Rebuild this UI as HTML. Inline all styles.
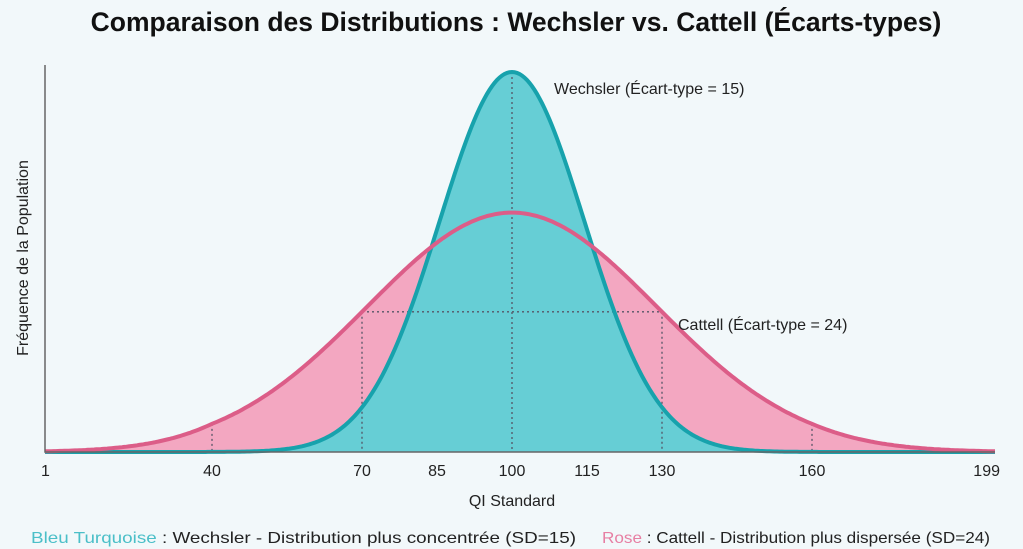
<!DOCTYPE html>
<html><head><meta charset="utf-8"><style>
body{margin:0;background:#f2f8fa;}
svg{display:block;font-family:"Liberation Sans",sans-serif;}
</style></head><body>
<svg id="c" width="1023" height="549">
<rect width="1023" height="549" fill="#f2f8fa"/>
<text x="516" y="31" text-anchor="middle" font-size="26.5" font-weight="bold" fill="#111">Comparaison des Distributions : Wechsler vs. Cattell (Écarts-types)</text>
<g id="plot"></g>
<text x="512" y="506" text-anchor="middle" font-size="16" fill="#222">QI Standard</text>
<text transform="translate(28,258) rotate(-90)" text-anchor="middle" font-size="16" fill="#222">Fréquence de la Population</text>
<text x="554" y="94" font-size="16" fill="#222">Wechsler (Écart-type = 15)</text>
<text x="678" y="330" font-size="16" fill="#222">Cattell (Écart-type = 24)</text>
<text x="31" y="543" font-size="16" fill="#222" textLength="545" lengthAdjust="spacingAndGlyphs"><tspan fill="#4bbfc8">Bleu Turquoise</tspan> : Wechsler - Distribution plus concentrée (SD=15)</text>
<text x="602" y="543" font-size="16" fill="#222" textLength="388" lengthAdjust="spacingAndGlyphs"><tspan fill="#e77fa3">Rose</tspan> : Cattell - Distribution plus dispersée (SD=24)</text>
</svg>
<script>
const tickValues=[1,40,70,85,100,115,130,160,199];
const seriesNames=["cattell","wechsler"];
const seriesMeans=[100,100];
const seriesSpreads=[29,14.5];
const seriesPeaks=[0.63,1.0];
const fills=["#f3a7c1","#66ced5"];
const strokes=["#dc5d88","#17a2ac"];
const ns="http://www.w3.org/2000/svg";
const Y0=452,H=380;
function xs(v){ if(v<=40) return 45+(v-1)/39*(212-45); if(v>=160) return 812+(v-160)/39*(995-812); return 512+(v-100)*5; }
function ys(f){ return Y0-f*H; }
function dens(i,v){ const z=(v-seriesMeans[i])/seriesSpreads[i]; return seriesPeaks[i]*Math.exp(-0.5*z*z); }
const g=document.getElementById('plot');
function mk(t,a){const e=document.createElementNS(ns,t);for(const k in a)e.setAttribute(k,a[k]);g.appendChild(e);return e;}
const lines=[];
for(let i=0;i<2;i++){
  let d="M"+xs(1)+","+Y0;
  let l="";
  for(let v=1;v<=199;v+=0.5){const p=xs(v).toFixed(1)+","+ys(dens(i,v)).toFixed(1);d+=" L"+p;l+=(l?" L":"M")+p;}
  d+=" L"+xs(199)+","+Y0+"Z";
  const a=mk('path',{d:d,fill:fills[i]});
  
  
  lines.push(l);
}
function dot(x1,y1,x2,y2,n){const e=mk('line',{x1:x1,y1:y1,x2:x2,y2:y2,stroke:"#556",'stroke-width':1.3,'stroke-dasharray':"2,3"});

}
dot(xs(100),ys(dens(1,100)),xs(100),Y0,'mean-guide');
const yc=ys(dens(0,70));
dot(xs(70),yc,xs(130),yc,'sd-guide-horizontal');
dot(xs(70),yc,xs(70),Y0,'guide-70');
dot(xs(130),yc,xs(130),Y0,'guide-130');
dot(xs(40),ys(dens(0,40)),xs(40),Y0,'guide-40');
dot(xs(160),ys(dens(0,160)),xs(160),Y0,'guide-160');
[1,0].forEach(i=>{
  const b=mk('path',{d:lines[i],fill:"none",stroke:strokes[i],"stroke-width":4});
  
  
});
const ax=mk('path',{d:"M45,65 L45,452 L995,452",fill:"none",stroke:"#666","stroke-width":1.5});


tickValues.forEach(v=>{
  const t=mk('text',{x:xs(v),y:476,'text-anchor':v===1?'start':(v===199?'end':'middle'),'font-size':16,fill:'#222'});
  if(v===1)t.setAttribute('x',41);
  if(v===199)t.setAttribute('x',1000);
  t.textContent=v;
  
  
});
</script>
</body></html>
